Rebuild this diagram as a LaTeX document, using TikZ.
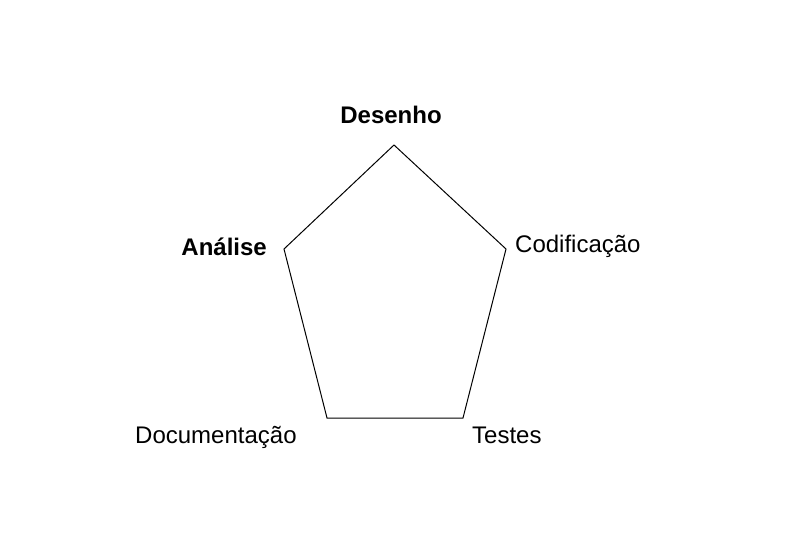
\documentclass[tikz,border=0pt]{standalone}
\usepackage{fontspec}
\setmainfont{Liberation Sans}
\begin{document}
\begin{tikzpicture}[x=1pt,y=-1pt,
  lbl/.style={inner sep=0pt,anchor=base west,font=\fontsize{24}{28}\selectfont},
  edge/.style={draw=black,line width=1pt}]
\useasboundingbox (0,0) rectangle (794,559);
\coordinate (top) at (394,145);
\coordinate (left) at (284,249);
\coordinate (right) at (506,249);
\coordinate (bl) at (327,418);
\coordinate (br) at (463,418);
\draw[edge] (top) -- (right) -- (br) -- (bl) -- (left) -- cycle;
\node[lbl,anchor=base,font=\fontsize{24}{28}\selectfont\bfseries] (des) at (391,124) {Desenho};
\node[lbl,anchor=base east,font=\fontsize{24}{28}\selectfont\bfseries] (ana) at (267,255) {Análise};
\node[lbl] (cod) at (515,252) {Codificação};
\node[lbl] (tes) at (472,443) {Testes};
\node[lbl] (doc) at (135,443) {Documentação};
\end{tikzpicture}
\end{document}
